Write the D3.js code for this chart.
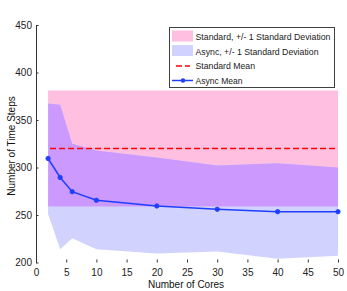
<!DOCTYPE html>
<html><head><meta charset="utf-8">
<script src="https://cdn.jsdelivr.net/npm/d3@7"></script>
<style>
body{margin:0;background:#fff;}
svg{display:block;font-family:"Liberation Sans",Arial,sans-serif;}
</style></head>
<body>
<svg id="c" width="347" height="291"></svg>
<script>
const cores = [2, 4, 6, 10, 20, 30, 40, 50];
const asyncMean = [309.5, 289.5, 274.5, 265.5, 259.5, 256, 253.5, 253.5];
const asyncUpper = [367.5, 366, 325, 318, 310.5, 302, 304.5, 300];
const asyncLower = [251, 214, 225.5, 214, 209.5, 211.5, 204, 207];
const standardMean = [320, 320, 320, 320, 320, 320, 320, 320];
const standardUpper = [381, 381, 381, 381, 381, 381, 381, 381];
const standardLower = [259, 259, 259, 259, 259, 259, 259, 259];
const xTicks = [0, 5, 10, 15, 20, 25, 30, 35, 40, 45, 50];
const yTicks = [200, 250, 300, 350, 400, 450];
const legendLabels = ["Standard, +/- 1 Standard Deviation", "Async, +/- 1 Standard Deviation", "Standard Mean", "Async Mean"];

const svg = d3.select("#c");
const x = d3.scaleLinear().domain([0, 50]).range([36, 338]);
const y = d3.scaleLinear().domain([200, 450]).range([262.5, 25]);

const idx = d3.range(cores.length);
const stdArea = d3.area().x(i => x(cores[i])).y0(i => y(standardLower[i])).y1(i => y(standardUpper[i]));
const asyArea = d3.area().x(i => x(cores[i])).y0(i => y(asyncLower[i])).y1(i => y(asyncUpper[i]));

svg.append("defs").append("clipPath").attr("id", "stdclip")
  .append("path").attr("d", stdArea(idx));

svg.append("path").attr("d", stdArea(idx)).attr("fill", "#ffbfe0");
svg.append("path").attr("d", asyArea(idx)).attr("fill", "#d2d2ff");
svg.append("path").attr("d", asyArea(idx)).attr("fill", "#cc99ff").attr("clip-path", "url(#stdclip)");

// standard mean dashed
svg.append("path")
  .attr("d", d3.line().x(i => x(cores[i])).y(i => y(standardMean[i]))(idx))
  .attr("fill", "none").attr("stroke", "#ff0000").attr("stroke-width", 1.5)
  .attr("stroke-dasharray", "6,3").attr("stroke-dashoffset", -2);

// async mean
svg.append("path")
  .attr("d", d3.line().x(i => x(cores[i])).y(i => y(asyncMean[i]))(idx))
  .attr("fill", "none").attr("stroke", "#1f3fff").attr("stroke-width", 1.5);
svg.selectAll("circle.m").data(idx).enter().append("circle")
  .attr("cx", i => x(cores[i])).attr("cy", i => y(asyncMean[i])).attr("r", 2.2)
  .attr("fill", "#1f3fff").attr("stroke", "#1f3fff").attr("stroke-width", 0.8);

// axes
const ya = d3.axisLeft(y).tickValues(yTicks).tickSizeInner(-2.5).tickSizeOuter(0).tickPadding(4);
const gy = svg.append("g").attr("transform", "translate(36,0)").call(ya);
gy.select(".domain").attr("stroke", "#333");
gy.selectAll(".tick line").attr("stroke", "#333");
gy.selectAll("text").attr("font-size", 10).attr("fill", "#222").attr("font-family", "Liberation Sans, Arial, sans-serif");

const xa = d3.axisBottom(x).tickValues(xTicks).tickSizeInner(-3).tickSizeOuter(0).tickPadding(6);
const gx = svg.append("g").attr("transform", "translate(0,262.5)").call(xa);
gx.select(".domain").remove();
gx.selectAll(".tick line").attr("stroke", "#333");
gx.selectAll("text").attr("font-size", 10).attr("fill", "#222").attr("font-family", "Liberation Sans, Arial, sans-serif");

svg.append("text").attr("x", 186).attr("y", 288).attr("text-anchor", "middle")
  .attr("font-size", 10).attr("fill", "#111").text("Number of Cores");
svg.append("text").attr("transform", "translate(14.5,146) rotate(-90)").attr("text-anchor", "middle")
  .attr("font-size", 10).attr("fill", "#111").text("Number of Time Steps");

// legend
const lg = svg.append("g");
lg.append("rect").attr("x", 169.5).attr("y", 27.5).attr("width", 165).attr("height", 60)
  .attr("fill", "#fff").attr("stroke", "#404040").attr("stroke-width", 1);
const rowsY = [37, 51.5, 66, 80.5];
const widths = [135, 123, 59.5, 47];
lg.append("rect").attr("x", 172).attr("y", 30.5).attr("width", 21).attr("height", 11).attr("fill", "#ffbfe0");
lg.append("rect").attr("x", 172).attr("y", 45).attr("width", 21).attr("height", 11).attr("fill", "#d2d2ff");
lg.append("line").attr("x1", 176).attr("x2", 190).attr("y1", rowsY[2]).attr("y2", rowsY[2])
  .attr("stroke", "#ff0000").attr("stroke-width", 1.5).attr("stroke-dasharray", "6,3");
lg.append("line").attr("x1", 172).attr("x2", 193).attr("y1", rowsY[3]).attr("y2", rowsY[3])
  .attr("stroke", "#1f3fff").attr("stroke-width", 1.5);
lg.append("circle").attr("cx", 183).attr("cy", rowsY[3]).attr("r", 2.2).attr("fill", "#1f3fff");
legendLabels.forEach((t, i) => {
  lg.append("text").attr("x", 195.5).attr("y", rowsY[i]).attr("dy", "0.35em")
    .attr("font-size", 9.5).attr("fill", "#222")
    .attr("textLength", widths[i]).attr("lengthAdjust", "spacingAndGlyphs").text(t);
});
</script>
</body></html>
